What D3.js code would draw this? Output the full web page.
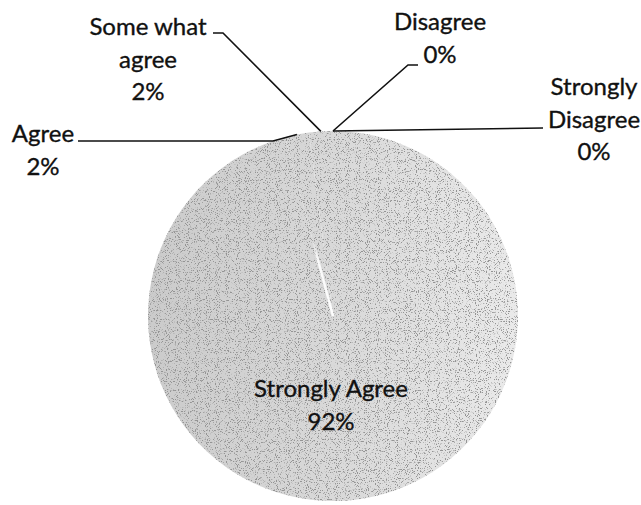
<!DOCTYPE html>
<html>
<head>
<meta charset="utf-8">
<script src="https://cdn.jsdelivr.net/npm/d3@7"></script>
<style>
  html, body { margin: 0; padding: 0; background: #ffffff; }
  svg { display: block; }
  text { font-family: Lato, "Liberation Sans", sans-serif; fill: #111; stroke: #111; stroke-width: 0.35px; }
</style>
</head>
<body>
<svg id="chart" width="641" height="505"></svg>
<script>
// Survey responses (share of respondents, %)
const categories = ["Strongly Agree", "Agree", "Some what agree", "Disagree", "Strongly Disagree"];
const percentages = [92, 2, 2, 0, 0];
// How each category name is broken over lines in its label
const nameLines = [["Strongly Agree"], ["Agree"], ["Some what", "agree"], ["Disagree"], ["Strongly", "Disagree"]];

// Layout
const width = 641, height = 505;
const cx = 333, cy = 316, radius = 185;
const fontSize = 24, lineHeight = 32.5;

// Label placement: centre x and first baseline of each label block,
// plus the bend of its leader line (null for labels sitting inside the pie)
const labelLayout = [
  { x: 331, y: 397, leader: null },
  { x: 43,  y: 142, leader: { start: [78, 141], bend: "circle" } },
  { x: 148, y: 35,  leader: { start: [213, 33], bend: [223, 33] } },
  { x: 440, y: 30,  leader: { start: [418, 65], bend: [408, 65] } },
  { x: 594, y: 95,  leader: { start: [543, 128], bend: null } }
];

const svg = d3.select("#chart");
const defs = svg.append("defs");

// Light grey shading, a little darker on the left side
const grad = defs.append("linearGradient")
  .attr("id", "pieShade").attr("gradientUnits", "userSpaceOnUse")
  .attr("x1", -radius).attr("x2", radius).attr("y1", 0).attr("y2", 0);
grad.append("stop").attr("offset", "0%").attr("stop-color", "#cbcbcb");
grad.append("stop").attr("offset", "55%").attr("stop-color", "#dadada");
grad.append("stop").attr("offset", "100%").attr("stop-color", "#eaeaea");

// Printed stipple texture
const grain = defs.append("filter").attr("id", "stipple")
  .attr("x", 0).attr("y", 0).attr("width", 1).attr("height", 1);
grain.append("feTurbulence").attr("type", "fractalNoise").attr("baseFrequency", 0.9)
  .attr("numOctaves", 1).attr("seed", 7).attr("result", "noise");
grain.append("feColorMatrix").attr("in", "noise").attr("type", "matrix")
  .attr("values", "0 0 0 0 0.3  0 0 0 0 0.3  0 0 0 0 0.3  10 0 0 0 -5.6").attr("result", "dots");
grain.append("feComposite").attr("in", "dots").attr("in2", "SourceGraphic").attr("operator", "in").attr("result", "dotsIn");
const merge = grain.append("feMerge");
merge.append("feMergeNode").attr("in", "SourceGraphic");
merge.append("feMergeNode").attr("in", "dotsIn");

const pie = d3.pie().sort(null).value(d => d)(percentages);
const arc = d3.arc().innerRadius(0).outerRadius(radius);

const g = svg.append("g").attr("transform", `translate(${cx},${cy})`);

g.append("g").attr("filter", "url(#stipple)")
  .selectAll("path")
  .data(pie)
  .join("path")
  .attr("d", arc)
  .attr("fill", "url(#pieShade)")
  .attr("stroke", "none");

// Separator between the largest slice and the next one, fading out towards the rim
const sep = pie[0].endAngle;
const sepEnd = [Math.sin(sep) * radius * 0.42, -Math.cos(sep) * radius * 0.42];
const sepGrad = defs.append("linearGradient").attr("id", "sepFade")
  .attr("gradientUnits", "userSpaceOnUse")
  .attr("x1", 0).attr("y1", 0).attr("x2", sepEnd[0]).attr("y2", sepEnd[1]);
sepGrad.append("stop").attr("offset", "0%").attr("stop-color", "#fff").attr("stop-opacity", 0.95);
sepGrad.append("stop").attr("offset", "75%").attr("stop-color", "#fff").attr("stop-opacity", 0.85);
sepGrad.append("stop").attr("offset", "100%").attr("stop-color", "#fff").attr("stop-opacity", 0);
g.append("line")
  .attr("x1", 0).attr("y1", 0)
  .attr("x2", sepEnd[0]).attr("y2", sepEnd[1])
  .attr("stroke", "url(#sepFade)").attr("stroke-width", 2.5);

// Point on the rim at the middle of a slice (page coordinates)
function rimPoint(d) {
  const a = (d.startAngle + d.endAngle) / 2;
  return [cx + Math.sin(a) * radius, cy - Math.cos(a) * radius];
}

// Leader lines
const leaderData = pie.map((d, i) => ({ d, lay: labelLayout[i] })).filter(o => o.lay.leader);
svg.append("g").selectAll("path")
  .data(leaderData)
  .join("path")
  .attr("fill", "none")
  .attr("stroke", "#111")
  .attr("stroke-width", 1.6)
  .attr("d", o => {
    const L = o.lay.leader;
    const end = rimPoint(o.d);
    const pts = [L.start];
    if (L.bend === "circle") {
      // run level until the line reaches the rim
      const dy = L.start[1] - cy;
      pts.push([cx - Math.sqrt(radius * radius - dy * dy), L.start[1]]);
    } else if (L.bend) {
      pts.push(L.bend);
    }
    pts.push(end);
    return d3.line()(pts);
  });

// Labels: category name lines followed by the percentage
const labels = svg.append("g")
  .selectAll("text")
  .data(pie)
  .join("text")
  .attr("text-anchor", "middle")
  .attr("font-size", fontSize)
  .attr("transform", (d, i) => `translate(${labelLayout[i].x},${labelLayout[i].y})`);

labels.selectAll("tspan")
  .data((d, i) => nameLines[i].concat([d3.format("d")(d.value) + "%"]))
  .join("tspan")
  .attr("x", 0)
  .attr("y", (t, j) => j * lineHeight)
  .text(t => t);
</script>
</body>
</html>
